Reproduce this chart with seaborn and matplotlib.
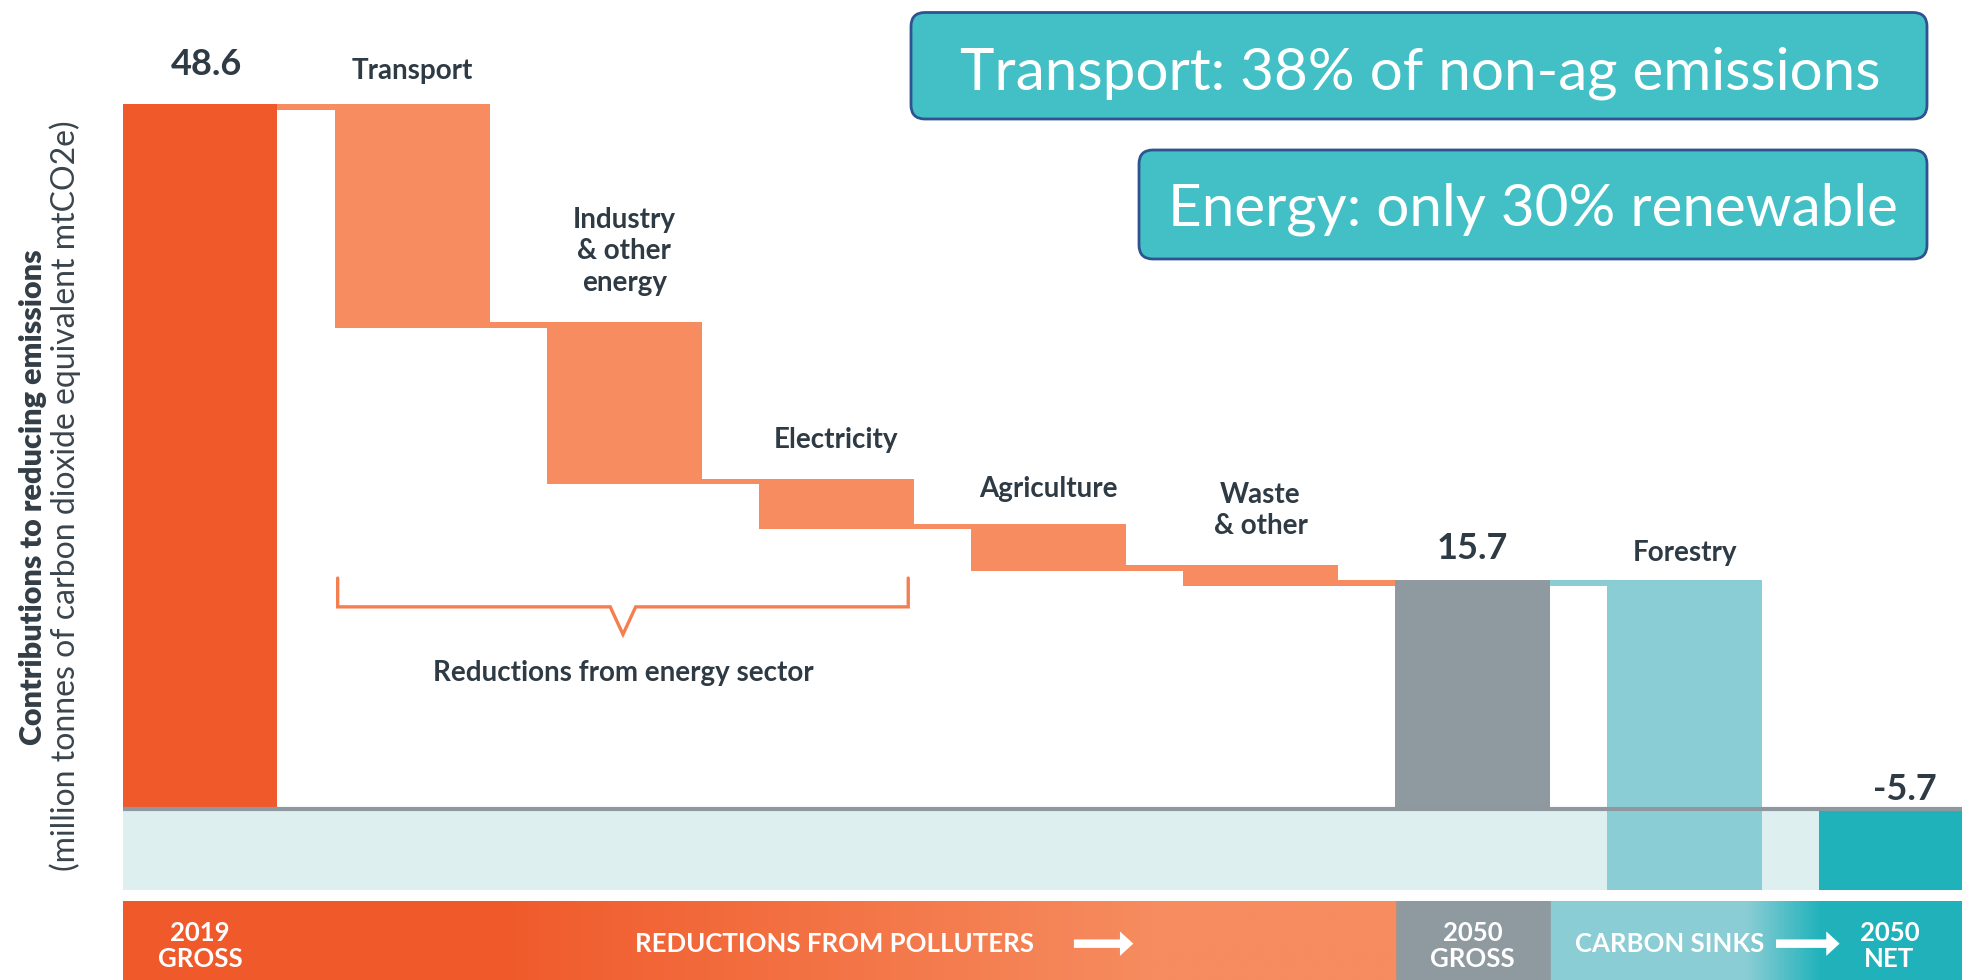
import numpy as np
import pandas as pd
import matplotlib
matplotlib.use("Agg")
import matplotlib.pyplot as plt
import seaborn as sns
from matplotlib.patches import FancyBboxPatch
from matplotlib.transforms import IdentityTransform
from matplotlib.colors import to_rgb

# ---------------- data ----------------
categories = ["2019 gross", "Transport", "Industry & other energy", "Electricity",
              "Agriculture", "Waste & other", "2050 gross", "Forestry", "2050 net"]
gross_2019 = 48.6
reductions = [15.1, 10.8, 3.1, 2.9, 1.0]
gross_2050 = 15.7
forestry_sink = 21.4
net_2050 = -5.7

bar_labels = ["48.6", "Transport", "Industry\n& other\nenergy", "Electricity",
              "Agriculture", "Waste\n& other", "15.7", "Forestry", "-5.7"]
bracket_label = "Reductions from energy sector"
banner_labels = ["2019\nGROSS", "REDUCTIONS FROM POLLUTERS", "2050\nGROSS",
                 "CARBON SINKS", "2050\nNET"]
callouts = ["Transport: 38% of non-ag emissions", "Energy: only 30% renewable"]
ylabel_bold = "Contributions to reducing emissions"
ylabel_reg = "(million tonnes of carbon dioxide equivalent mtCO2e)"

# ---------------- colours ----------------
C_GROSS19 = "#F05A2B"
C_RED = "#F68C5F"
C_GROSS50 = "#8F9AA0"
C_FOREST = "#8BCDD4"
C_NET = "#20B2BB"
C_BAND = "#DEEFEF"
C_TEXT = "#2E3A44"
C_BOX = "#42C0C6"
C_BOXEDGE = "#2F5290"

colors = [C_GROSS19] + [C_RED] * len(reductions) + [C_GROSS50, C_FOREST, C_NET]

levels = list(gross_2019 - np.cumsum(reductions))
bottoms = [0.0] + levels + [0.0, net_2050, net_2050]
heights = [gross_2019] + reductions + [gross_2050, forestry_sink, -net_2050]
tops = [b + h for b, h in zip(bottoms, heights)]

df = pd.DataFrame({"category": categories, "span": heights})

# ---------------- figure ----------------
sns.set_theme(style="white")
plt.rcParams["font.family"] = ["Lato", "DejaVu Sans"]

W, H = 1962, 980
fig = plt.figure(figsize=(W / 100, H / 100), dpi=100)
fig.patch.set_facecolor("white")

ax_left = 122.6 / W
ax = fig.add_axes([ax_left, (H - 889.6) / H, 1 - ax_left, 889.6 / H])
bw = 0.73
sns.barplot(data=df, x="category", y="span", hue="category", palette=colors,
            width=bw, saturation=1, legend=False, ax=ax, linewidth=0,
            edgecolor="none", zorder=2)
bars = list(ax.patches)
for p, b in zip(bars, bottoms):
    p.set_y(b)

xmin, xmax = -bw / 2, 8.307
ax.set_xlim(xmin, xmax)
ax.set_ylim(net_2050, 55.78)
ax.axis("off")

# band below zero
ax.axhspan(net_2050, 0, color=C_BAND, zorder=0, lw=0)
# connectors
for i in range(len(categories) - 2):
    lvl = tops[i + 1]
    c = C_FOREST if i == 6 else C_RED
    ax.fill_between([i - bw / 2, i + 1 - bw / 2], lvl - 0.4, lvl, color=c,
                    lw=0, zorder=1)
# baseline
ax.axhline(-0.15, color="#8E989E", lw=3, zorder=4)

# labels
label_y = [51.3, 50.9, 38.4, 25.35, 21.97, 20.5, 17.9, 17.56, 1.25]
label_x = [0.03, 1, 2, 3, 4, 5, 6, 7, 8.04]
for i, (lx, ly, t) in enumerate(zip(label_x, label_y, bar_labels)):
    is_num = t.replace(".", "").replace("-", "").isdigit()
    ax.text(lx, ly, t, ha="center", va="center", color=C_TEXT,
            fontsize=26 if is_num else 20, fontweight="bold",
            linespacing=1.25, zorder=5)

# bracket
bx0, bx1, bmid = 0.649, 3.339, 1.994
by_top, by, by_tip = 15.83, 13.84, 11.94
ax.plot([bx0, bx0, bmid - 0.06, bmid, bmid + 0.06, bx1, bx1],
        [by_top, by, by, by_tip, by, by, by_top],
        color="#F47E50", lw=2.4, solid_joinstyle="miter", zorder=5)
ax.text(bmid, 9.26, bracket_label, ha="center", va="center", color=C_TEXT,
        fontsize=20, fontweight="bold")

# ---------------- bottom banner ----------------
axb = fig.add_axes([ax_left, 0, 1 - ax_left, 79 / H])
axb.set_xlim(xmin, xmax)
axb.set_ylim(0, 1)
axb.axis("off")
xs = np.linspace(xmin, xmax, 2000)


def blend(c1, c2, t):
    a, b = np.array(to_rgb(c1)), np.array(to_rgb(c2))
    return a + (b - a) * t


cols = []
for x in xs:
    if x < 6 - bw / 2:
        t = np.clip((x - 1.42) / (4.48 - 1.42), 0, 1)
        cols.append(blend(C_GROSS19, C_RED, t))
    elif x < 6 + bw / 2:
        cols.append(np.array(to_rgb(C_GROSS50)))
    else:
        t = np.clip((x - 7.29) / (7.64 - 7.29), 0, 1)
        cols.append(blend(C_FOREST, C_NET, t))
img = np.array(cols)[None, :, :]
axb.imshow(img, extent=[xmin, xmax, 0, 1], aspect="auto", interpolation="bilinear")

bkw = dict(ha="center", va="center", color="white", fontweight="bold",
           fontsize=18.5, linespacing=1.12)
axb.text(0, 0.43, banner_labels[0], **bkw)
axb.text(2.99, 0.46, banner_labels[1], **bkw)
axb.text(6, 0.43, banner_labels[2], **bkw)
axb.text(6.93, 0.46, banner_labels[3], **bkw)
axb.text(7.965, 0.43, banner_labels[4], **bkw)
arrow_style = "simple,head_length=0.6,head_width=1.1,tail_width=0.38"
for xa, xb_ in [(4.12, 4.40), (7.43, 7.73)]:
    axb.annotate("", xy=(xb_, 0.46), xytext=(xa, 0.46),
                 arrowprops=dict(arrowstyle=arrow_style, color="white",
                                 mutation_scale=16, shrinkA=0, shrinkB=0, lw=0))

# ---------------- y label ----------------
fig.text(33 / W, 0.4923, ylabel_bold, rotation=90, ha="center", va="center",
         color="#333D46", fontsize=22, fontweight="heavy")
fig.text(65 / W, 0.4944, ylabel_reg, rotation=90, ha="center", va="center",
         color="#3A444D", fontsize=23)

# ---------------- callout boxes ----------------
boxes = [(911, 12.5, 1927, 119, 1420, 73), (1139, 150, 1927, 259, 1533, 209.6)]
for (x0, y0, x1, y1, tx, ty), txt in zip(boxes, callouts):
    patch = FancyBboxPatch((x0, H - y1), x1 - x0, y1 - y0,
                           boxstyle="round,pad=0,rounding_size=14",
                           transform=IdentityTransform(), facecolor=C_BOX,
                           edgecolor=C_BOXEDGE, lw=2)
    fig.add_artist(patch)
    fig.text(tx / W, 1 - ty / H, txt, ha="center", va="center", color="white",
             fontsize=42)

fig.savefig("out.png", dpi=100)
